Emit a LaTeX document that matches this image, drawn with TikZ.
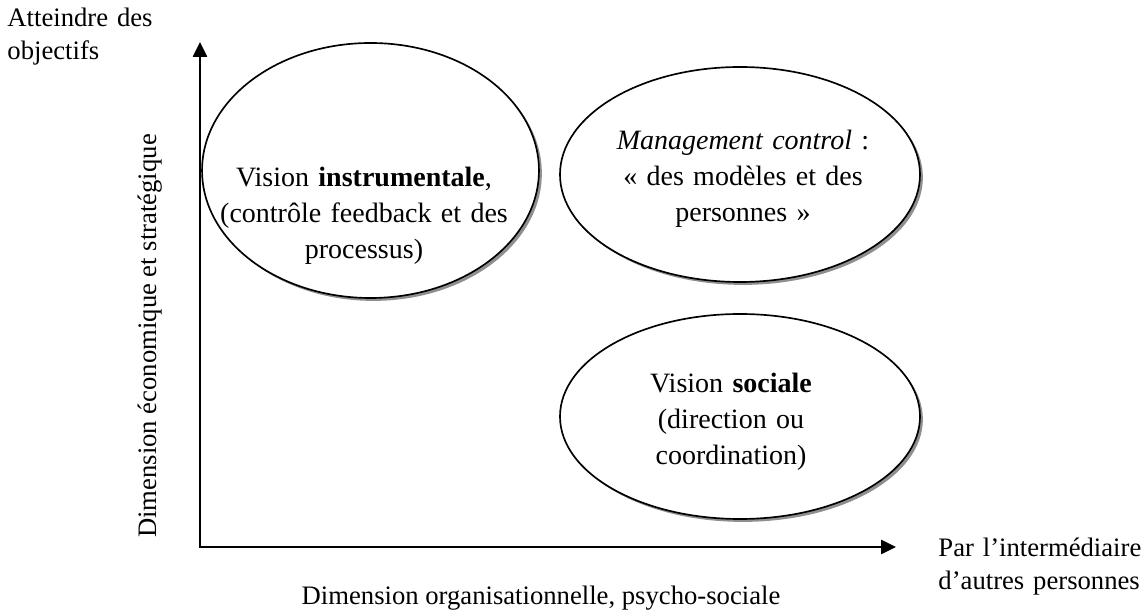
\documentclass[tikz,border=0pt]{standalone}
\usepackage{fontspec}
\setmainfont{Liberation Serif}
\usetikzlibrary{arrows.meta,shapes.geometric,shadows}
\tikzset{
  oval/.style={ellipse,draw=black,line width=0.75pt,fill=white,inner sep=0pt,
    drop shadow={shadow xshift=1.3pt,shadow yshift=-1.3pt,fill=black!55,opacity=0.8}},
  intext/.style={font=\fontsize{12.6pt}{16.2pt}\selectfont,align=center,text width=150pt,anchor=base,inner sep=0pt},
  outer/.style={font=\fontsize{12pt}{14.85pt}\selectfont,inner sep=0pt,anchor=base},
  outerml/.style={outer,align=left,text width=95pt,anchor=base west},
  axis/.style={line width=1pt,{Triangle[length=6.7pt,width=6.3pt]}-{Triangle[length=6.7pt,width=6.3pt]}}
}
\begin{document}
\begin{tikzpicture}[x=0.45pt,y=-0.45pt]
\useasboundingbox (0,0) rectangle (1148,616);
% axes
\coordinate (ytop) at (200,42);
\coordinate (O) at (200,547);
\coordinate (xend) at (896,547);
% ellipses
\node[oval,minimum width=151.6pt,minimum height=114.75pt] (e1) at (370.5,170.5) {};
\node[oval,minimum width=162pt,minimum height=96.75pt] (e2) at (740,174.5) {};
\node[oval,minimum width=162pt,minimum height=92.25pt] (e3) at (740,416.5) {};
\draw[axis] (ytop) -- (O) -- (xend);
% ellipse texts
\node[intext] (t1) at (364,187) {Vision \textbf{instrumentale},\\(contrôle feedback et des\\processus)};
\node[intext] (t2) at (743,150) {\textit{Management control} :\\« des modèles et des\\personnes »};
\node[intext] (t3) at (731,393) {Vision \textbf{sociale}\\(direction ou\\coordination)};
% axis labels
\node[outerml] (ylab) at (7,27) {Atteindre des\\objectifs};
\node[outerml] (xlab) at (938,557) {Par l’intermédiaire\\d’autres personnes};
\node[outer,rotate=90] (ydim) at (157,336) {Dimension économique et stratégique};
\node[outer] (xdim) at (541,605) {Dimension organisationnelle, psycho-sociale};
\end{tikzpicture}
\end{document}
